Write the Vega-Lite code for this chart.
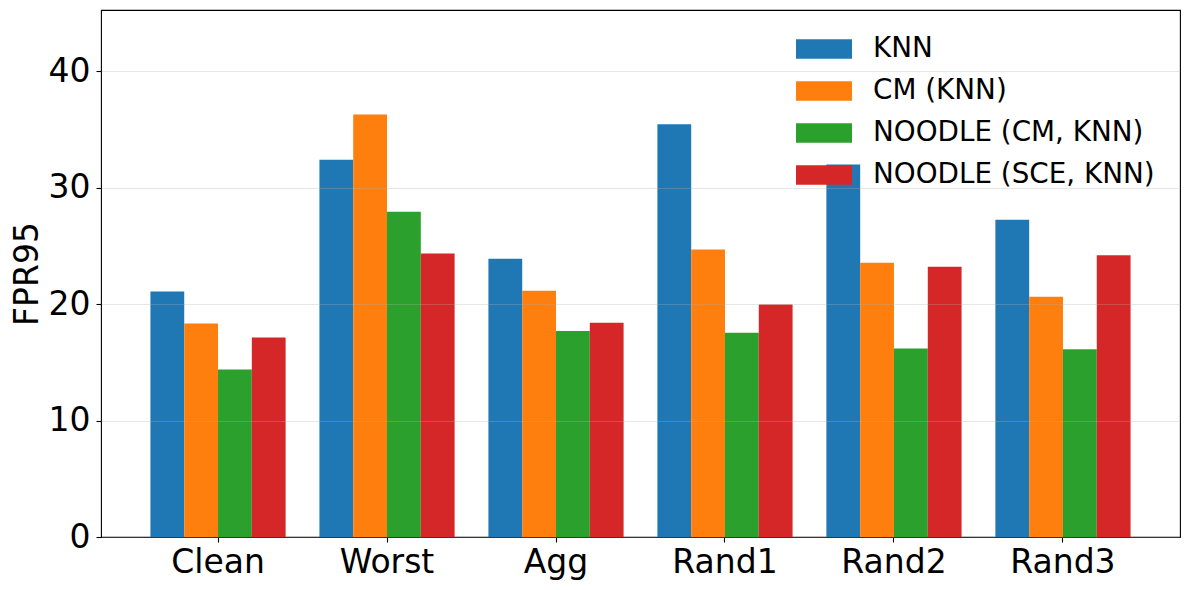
{
  "$schema": "https://vega.github.io/schema/vega-lite/v6.json",
  "width": 1079,
  "height": 527,
  "autosize": "none",
  "padding": {"left": 101, "top": 10, "right": 9, "bottom": 53},
  "background": "white",
  "config": {
    "font": "DejaVu Sans",
    "view": {"stroke": "black", "strokeWidth": 1.1},
    "axis": {"domain": false, "tickColor": "black", "tickWidth": 1.1, "tickSize": 5, "labelColor": "black", "titleColor": "black"}
  },
  "data": {
    "values": [
      {"group": "Clean", "method": "KNN", "value": 21.08},
      {"group": "Clean", "method": "CM (KNN)", "value": 18.33},
      {"group": "Clean", "method": "NOODLE (CM, KNN)", "value": 14.38},
      {"group": "Clean", "method": "NOODLE (SCE, KNN)", "value": 17.13},
      {"group": "Worst", "method": "KNN", "value": 32.4},
      {"group": "Worst", "method": "CM (KNN)", "value": 36.3},
      {"group": "Worst", "method": "NOODLE (CM, KNN)", "value": 27.95},
      {"group": "Worst", "method": "NOODLE (SCE, KNN)", "value": 24.35},
      {"group": "Agg", "method": "KNN", "value": 23.9},
      {"group": "Agg", "method": "CM (KNN)", "value": 21.15},
      {"group": "Agg", "method": "NOODLE (CM, KNN)", "value": 17.7},
      {"group": "Agg", "method": "NOODLE (SCE, KNN)", "value": 18.4},
      {"group": "Rand1", "method": "KNN", "value": 35.45},
      {"group": "Rand1", "method": "CM (KNN)", "value": 24.7},
      {"group": "Rand1", "method": "NOODLE (CM, KNN)", "value": 17.55},
      {"group": "Rand1", "method": "NOODLE (SCE, KNN)", "value": 19.97},
      {"group": "Rand2", "method": "KNN", "value": 32.0},
      {"group": "Rand2", "method": "CM (KNN)", "value": 23.56},
      {"group": "Rand2", "method": "NOODLE (CM, KNN)", "value": 16.2},
      {"group": "Rand2", "method": "NOODLE (SCE, KNN)", "value": 23.22},
      {"group": "Rand3", "method": "KNN", "value": 27.26},
      {"group": "Rand3", "method": "CM (KNN)", "value": 20.64},
      {"group": "Rand3", "method": "NOODLE (CM, KNN)", "value": 16.12},
      {"group": "Rand3", "method": "NOODLE (SCE, KNN)", "value": 24.2}
    ]
  },
  "mark": {"type": "bar"},
  "encoding": {
    "x": {
      "field": "group",
      "type": "nominal",
      "sort": ["Clean", "Worst", "Agg", "Rand1", "Rand2", "Rand3"],
      "scale": {"paddingInner": 0.2, "paddingOuter": 0.2925},
      "axis": {"title": null, "labelAngle": 0, "labelFontSize": 33, "labelPadding": 4, "grid": false}
    },
    "xOffset": {
      "field": "method",
      "type": "nominal",
      "sort": ["KNN", "CM (KNN)", "NOODLE (CM, KNN)", "NOODLE (SCE, KNN)"],
      "scale": {"paddingInner": 0, "paddingOuter": 0}
    },
    "y": {
      "field": "value",
      "type": "quantitative",
      "scale": {"domain": [0, 45.27], "nice": false},
      "axis": {
        "title": "FPR95",
        "titleFontSize": 33,
        "titleFontWeight": "normal",
        "titlePadding": 4,
        "labelFontSize": 33,
        "labelPadding": 6,
        "values": [0, 10, 20, 30, 40],
        "grid": true,
        "gridColor": "#b0b0b0",
        "gridOpacity": 0.3,
        "gridWidth": 1,
        "zindex": 1
      }
    },
    "color": {
      "field": "method",
      "type": "nominal",
      "scale": {
        "domain": ["KNN", "CM (KNN)", "NOODLE (CM, KNN)", "NOODLE (SCE, KNN)"],
        "range": ["#1f77b4", "#ff7f0e", "#2ca02c", "#d62728"]
      },
      "legend": {
        "title": null,
        "orient": "none",
        "legendX": 695,
        "legendY": 25,
        "padding": 0,
        "symbolType": "M-1,-0.7L3,-0.7L3,0.7L-1,0.7Z",
        "symbolSize": 784,
        "symbolStrokeWidth": 0,
        "symbolOpacity": 1,
        "labelFontSize": 27.8,
        "labelColor": "black",
        "labelOffset": 49,
        "rowPadding": 14,
        "labelLimit": 400
      }
    }
  }
}
